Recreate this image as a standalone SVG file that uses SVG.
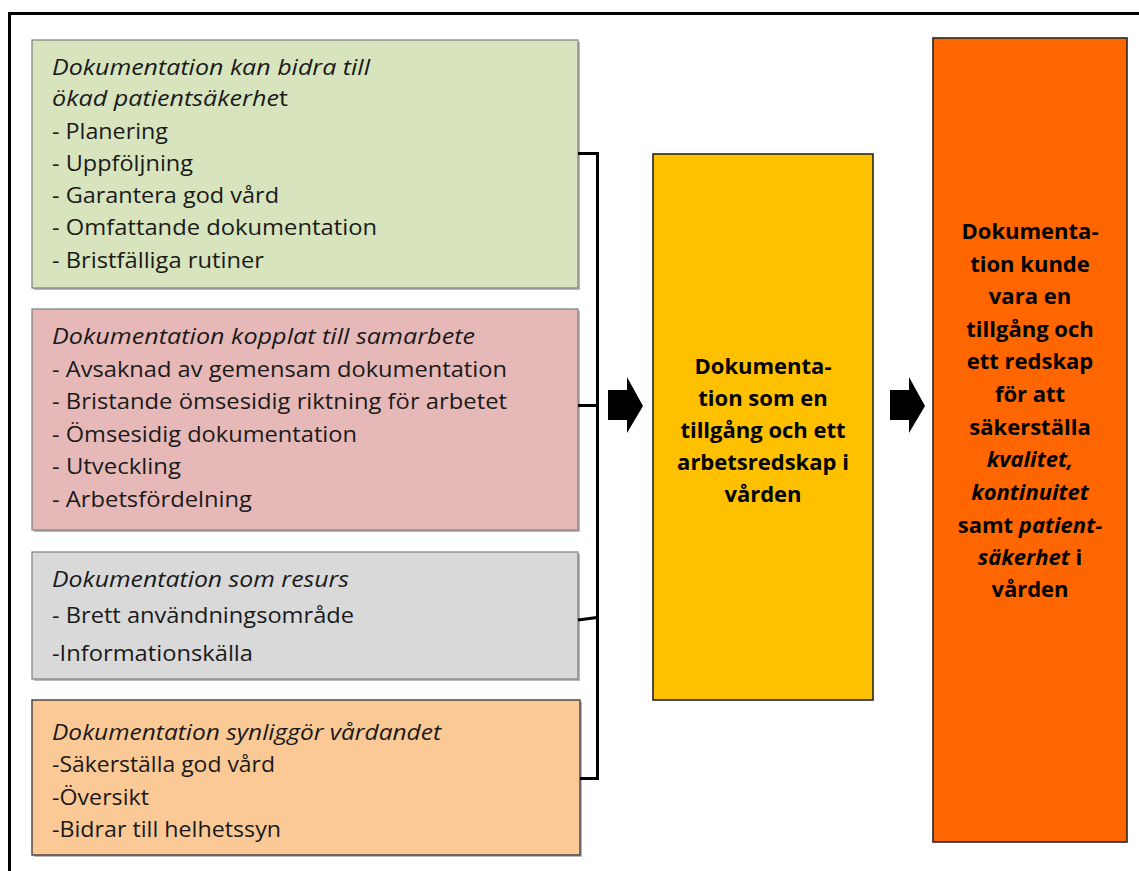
<svg xmlns="http://www.w3.org/2000/svg" width="1139" height="871" viewBox="0 0 1139 871">
<style>
.lt{font-family:"Open Sans","Liberation Sans",sans-serif;font-size:21px;fill:#1a1a1a}
.it{font-style:italic}
.bt{font-family:"Open Sans","Liberation Sans",sans-serif;font-size:22px;font-weight:bold;fill:#000;text-anchor:middle}
.box{stroke:#7f7f7f;stroke-width:1.2}
.shadow{fill:#9a9a9a;opacity:0.7}
.big{stroke:#262626;stroke-width:1.6}
.conn{fill:none;stroke:#000;stroke-width:3}
</style>
<rect width="1139" height="871" fill="#fff"/>
<path d="M9.5,871 V13.5 H1139" fill="none" stroke="#000" stroke-width="3"/>

<g id="green">
<rect class="shadow" x="34" y="42" width="546" height="248"/>
<rect class="box" x="32" y="40" width="546" height="248" fill="#d7e4bd"/>
<text class="lt it" x="52" y="75" textLength="318" lengthAdjust="spacingAndGlyphs">Dokumentation kan bidra till</text>
<text class="lt" x="52" y="106" textLength="236" lengthAdjust="spacingAndGlyphs"><tspan class="it">ökad patientsäkerhe</tspan>t</text>
<text class="lt" x="52" y="139" textLength="116" lengthAdjust="spacingAndGlyphs">- Planering</text>
<text class="lt" x="52" y="171" textLength="141" lengthAdjust="spacingAndGlyphs">- Uppföljning</text>
<text class="lt" x="52" y="203" textLength="227" lengthAdjust="spacingAndGlyphs">- Garantera god vård</text>
<text class="lt" x="52" y="235" textLength="325" lengthAdjust="spacingAndGlyphs">- Omfattande dokumentation</text>
<text class="lt" x="52" y="268" textLength="212" lengthAdjust="spacingAndGlyphs">- Bristfälliga rutiner</text>
</g>

<g id="red">
<rect class="shadow" x="34" y="311" width="546" height="221"/>
<rect class="box" x="32" y="309" width="546" height="221" fill="#e6b9b8"/>
<text class="lt it" x="52" y="344" textLength="423" lengthAdjust="spacingAndGlyphs">Dokumentation kopplat till samarbete</text>
<text class="lt" x="52" y="377" textLength="455" lengthAdjust="spacingAndGlyphs">- Avsaknad av gemensam dokumentation</text>
<text class="lt" x="52" y="409" textLength="455" lengthAdjust="spacingAndGlyphs">- Bristande ömsesidig riktning för arbetet</text>
<text class="lt" x="52" y="442" textLength="305" lengthAdjust="spacingAndGlyphs">- Ömsesidig dokumentation</text>
<text class="lt" x="52" y="474" textLength="129" lengthAdjust="spacingAndGlyphs">- Utveckling</text>
<text class="lt" x="52" y="507" textLength="200" lengthAdjust="spacingAndGlyphs">- Arbetsfördelning</text>
</g>

<g id="gray">
<rect class="shadow" x="34" y="554" width="546" height="127"/>
<rect class="box" x="32" y="552" width="546" height="127" fill="#d9d9d9"/>
<text class="lt it" x="52" y="587" textLength="297" lengthAdjust="spacingAndGlyphs">Dokumentation som resurs</text>
<text class="lt" x="52" y="623" textLength="302" lengthAdjust="spacingAndGlyphs">- Brett användningsområde</text>
<text class="lt" x="52" y="661" textLength="201" lengthAdjust="spacingAndGlyphs">-Informationskälla</text>
</g>

<g id="peach">
<rect class="shadow" x="34" y="702" width="548" height="155"/>
<rect x="32" y="700" width="548" height="155" fill="#fac996" stroke="#404040" stroke-width="1.4"/>
<text class="lt it" x="52" y="740" textLength="389" lengthAdjust="spacingAndGlyphs">Dokumentation synliggör vårdandet</text>
<text class="lt" x="52" y="772" textLength="223" lengthAdjust="spacingAndGlyphs">-Säkerställa god vård</text>
<text class="lt" x="52" y="805" textLength="97" lengthAdjust="spacingAndGlyphs">-Översikt</text>
<text class="lt" x="52" y="837" textLength="229" lengthAdjust="spacingAndGlyphs">-Bidrar till helhetssyn</text>
</g>

<g id="connectors">
<path class="conn" d="M578,153.5 H597.5 V778.5 H580"/>
<path class="conn" d="M578,405.5 H597"/>
<path class="conn" d="M578,620 L597,617.5"/>
<polygon points="608,390 627,390 627,377 643,406 627,433 627,420 608,420" fill="#000"/>
<polygon points="890,390 909,390 909,377 925,406 909,433 909,420 890,420" fill="#000"/>
</g>

<g id="yellow">
<rect class="big" x="653" y="154" width="220" height="546" fill="#ffc000"/>
<text class="bt" x="763" y="374">Dokumenta-</text>
<text class="bt" x="763" y="406">tion som en</text>
<text class="bt" x="763" y="438">tillgång och ett</text>
<text class="bt" x="763" y="470">arbetsredskap i</text>
<text class="bt" x="763" y="502">vården</text>
</g>

<g id="orange">
<rect class="big" x="933" y="38" width="194" height="804" fill="#ff6600"/>
<text class="bt" x="1030" y="239">Dokumenta-</text>
<text class="bt" x="1030" y="272">tion kunde</text>
<text class="bt" x="1030" y="304">vara en</text>
<text class="bt" x="1030" y="337">tillgång och</text>
<text class="bt" x="1030" y="369">ett redskap</text>
<text class="bt" x="1030" y="402">för att</text>
<text class="bt" x="1030" y="435">säkerställa</text>
<text class="bt it" x="1030" y="467">kvalitet,</text>
<text class="bt it" x="1030" y="500">kontinuitet</text>
<text class="bt" x="1030" y="533">samt <tspan class="it">patient-</tspan></text>
<text class="bt" x="1030" y="565"><tspan class="it">säkerhet</tspan> i</text>
<text class="bt" x="1030" y="597">vården</text>
</g>
</svg>
